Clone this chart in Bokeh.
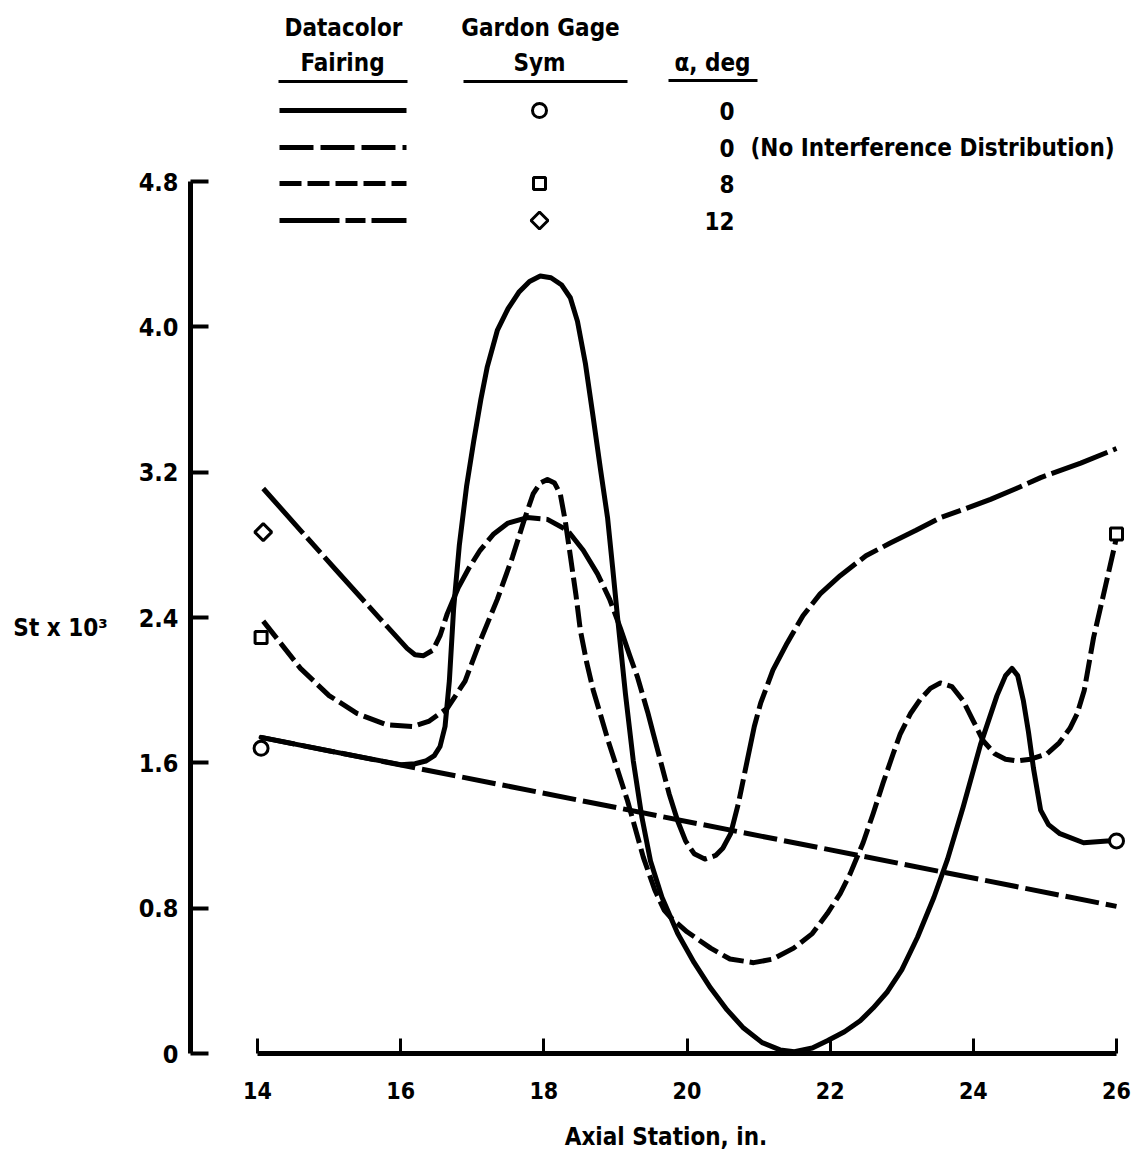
import numpy as np
from bokeh.plotting import figure
from bokeh.models import Range1d, FixedTicker, Label
from bokeh.embed import file_html
from bokeh.resources import INLINE

# ---------------- data ----------------
x_ticks = [14, 16, 18, 20, 22, 24, 26]
y_ticks = [0, 0.8, 1.6, 2.4, 3.2, 4.0, 4.8]
y_tick_labels = ["0", "0.8", "1.6", "2.4", "3.2", "4.0", "4.8"]

# alpha = 0, no interference distribution (straight fairing)
noint_x = [14.05, 26.0]
noint_y = [1.74, 0.81]

# alpha = 0 fairing (solid)
a0_x = [14.05, 15.0, 16.0, 16.2, 16.35, 16.47, 16.55, 16.62, 16.68, 16.74, 16.82, 16.92,
        17.02, 17.12, 17.21, 17.35, 17.5, 17.65, 17.8, 17.95, 18.1, 18.25, 18.37, 18.47,
        18.58, 18.69, 18.79, 18.89, 18.96, 19.03, 19.14, 19.25, 19.37, 19.49, 19.65, 19.87,
        20.1, 20.33, 20.56, 20.79, 21.05, 21.3, 21.5, 21.75, 21.96, 22.2, 22.42, 22.6, 22.8,
        23.0, 23.22, 23.45, 23.64, 23.86, 24.1, 24.33, 24.45, 24.54, 24.62, 24.7, 24.77,
        24.84, 24.94, 25.05, 25.21, 25.54, 25.87, 26.0]
a0_y = [1.74, 1.666, 1.59, 1.595, 1.61, 1.64, 1.69, 1.80, 2.05, 2.45, 2.80, 3.12,
        3.37, 3.60, 3.78, 3.98, 4.10, 4.19, 4.25, 4.28, 4.27, 4.23, 4.16, 4.03,
        3.80, 3.50, 3.22, 2.95, 2.68, 2.40, 1.98, 1.61, 1.30, 1.06, 0.86, 0.66,
        0.50, 0.36, 0.24, 0.14, 0.06, 0.02, 0.01, 0.03, 0.07, 0.12, 0.18, 0.25, 0.34,
        0.46, 0.64, 0.86, 1.07, 1.36, 1.70, 1.97, 2.08, 2.12, 2.08, 1.94, 1.77,
        1.57, 1.34, 1.26, 1.21, 1.16, 1.17, 1.17]
a0_sym_x = [14.05, 26.0]
a0_sym_y = [1.68, 1.17]

# alpha = 8 fairing (dashed)
a8_x = [14.08, 14.3, 14.6, 15.0, 15.4, 15.8, 16.17, 16.4, 16.65, 16.9, 17.11, 17.35,
        17.56, 17.72, 17.85, 17.95, 18.05, 18.15, 18.23, 18.3, 18.37, 18.45, 18.51,
        18.6, 18.69, 18.9, 19.17, 19.39, 19.55, 19.68, 19.77, 20.0, 20.33, 20.6, 20.93,
        21.2, 21.49, 21.75, 21.96, 22.14, 22.28, 22.46, 22.6, 22.74, 22.88, 22.98, 23.12,
        23.26, 23.4, 23.54, 23.7, 23.86, 24.0, 24.14, 24.3, 24.45, 24.61, 24.8, 25.03,
        25.2, 25.35, 25.45, 25.55, 25.68, 25.85, 26.0]
a8_y = [2.38, 2.27, 2.12, 1.97, 1.87, 1.81, 1.80, 1.83, 1.90, 2.05, 2.27, 2.50,
        2.73, 2.93, 3.08, 3.14, 3.16, 3.14, 3.08, 2.93, 2.74, 2.52, 2.33,
        2.15, 2.00, 1.72, 1.39, 1.08, 0.90, 0.79, 0.75, 0.67, 0.58, 0.52, 0.50,
        0.52, 0.58, 0.66, 0.77, 0.88, 0.99, 1.16, 1.32, 1.49, 1.65, 1.76, 1.87,
        1.95, 2.01, 2.04, 2.02, 1.94, 1.83, 1.72, 1.65, 1.62, 1.61, 1.62, 1.65,
        1.71, 1.79, 1.87, 2.00, 2.29, 2.58, 2.84]
a8_sym_x = [14.05, 26.0]
a8_sym_y = [2.29, 2.86]

# alpha = 12 fairing (long-short dash)
a12_x = [14.08, 14.6, 15.1, 15.72, 16.09, 16.2, 16.32, 16.45, 16.55, 16.65, 16.8, 16.95,
         17.11, 17.3, 17.5, 17.77, 18.05, 18.33, 18.55, 18.75, 18.92, 19.07, 19.2, 19.31,
         19.45, 19.53, 19.63, 19.75, 19.87, 19.98, 20.1, 20.25, 20.4, 20.5, 20.61, 20.72,
         20.84, 20.94, 21.03, 21.2, 21.4, 21.62, 21.86, 22.14, 22.5, 22.84, 23.2, 23.54,
         23.9, 24.24, 24.6, 24.94, 25.5, 26.0]
a12_y = [3.11, 2.88, 2.66, 2.39, 2.23, 2.195, 2.19, 2.22, 2.30, 2.42, 2.56, 2.67,
         2.77, 2.86, 2.92, 2.95, 2.94, 2.88, 2.77, 2.64, 2.50, 2.34, 2.19, 2.07,
         1.88, 1.76, 1.61, 1.43, 1.28, 1.17, 1.10, 1.07, 1.09, 1.13, 1.21, 1.38,
         1.61, 1.80, 1.93, 2.11, 2.26, 2.41, 2.53, 2.63, 2.74, 2.81, 2.88, 2.95,
         3.00, 3.05, 3.11, 3.17, 3.25, 3.33]
a12_sym_x = [14.08]
a12_sym_y = [2.87]

# legend texts
legend_alpha = ["0", "0", "8", "12"]

# ---------------- layout helpers (canvas pixels -> data) ----------------
def xd(px):
    return 14 + (px - 257) * 12.0 / (1116 - 257)

def yd(py):
    return (1053 - py) * 4.8 / (1053 - 181)

FONT = "DejaVu Sans Condensed, Liberation Sans Narrow, sans-serif"
BLACK = "#000000"
LW = 5
FS = "24px"

DASH_NOINT = "34 7"
DASH_A8 = "22 6"
DASH_A12 = "60 6 20 6"

W, H = 1141, 1159
p = figure(width=W, height=H,
           x_range=Range1d(xd(190), xd(W)),
           y_range=Range1d(0, yd(0)),
           output_backend="svg", toolbar_location=None,
           min_border_left=190, min_border_right=0,
           min_border_top=0, min_border_bottom=H - 1053)
p.outline_line_color = None
p.grid.grid_line_color = None
p.background_fill_color = "white"
p.border_fill_color = "white"

# axes
xax = p.xaxis[0]
xax.ticker = FixedTicker(ticks=x_ticks)
xax.bounds = (14, 26)
xax.axis_line_width = 5
xax.major_tick_line_width = 3
xax.major_tick_in = 15
xax.major_tick_out = 0
xax.minor_tick_line_color = None
xax.major_label_text_font = FONT
xax.major_label_text_font_style = "bold"
xax.major_label_text_font_size = "23px"
xax.major_label_text_color = BLACK
xax.major_label_standoff = 28
xax.axis_label = "Axial Station, in."
xax.axis_label_text_font = FONT
xax.axis_label_text_font_style = "bold"
xax.axis_label_text_font_size = FS
xax.axis_label_text_color = BLACK
xax.axis_label_standoff = 21

yax = p.yaxis[0]
yax.ticker = FixedTicker(ticks=y_ticks)
yax.bounds = (0, 4.8)
yax.axis_line_width = 5
yax.major_tick_line_width = 4
yax.major_tick_in = 18
yax.major_tick_out = 0
yax.minor_tick_line_color = None
yax.major_label_overrides = {float(v): s for v, s in zip(y_ticks, y_tick_labels)}
yax.major_label_text_font = FONT
yax.major_label_text_font_style = "bold"
yax.major_label_text_font_size = "25px"
yax.major_label_text_color = BLACK
yax.major_label_standoff = 12
# blank lines push the horizontal label down to the 2.4 level, as in the reference
yax.axis_label = "\n" * 6 + "St x 10\u00b3"
yax.axis_label_orientation = "horizontal"
yax.axis_label_text_font = FONT
yax.axis_label_text_font_style = "bold"
yax.axis_label_text_font_size = FS
yax.axis_label_text_color = BLACK
yax.axis_label_standoff = 28

# fairings
p.line(noint_x, noint_y, line_width=LW, color=BLACK, line_dash=DASH_NOINT)
p.line(a0_x, a0_y, line_width=LW, color=BLACK, line_join="round", line_cap="round")
p.line(a8_x, a8_y, line_width=LW, color=BLACK, line_dash=DASH_A8, line_join="round")
p.line(a12_x, a12_y, line_width=LW, color=BLACK, line_dash=DASH_A12, line_join="round")

# symbols
p.scatter(a0_sym_x, a0_sym_y, marker="circle", size=14, line_width=3,
          line_color=BLACK, fill_color="white")
p.scatter(a8_sym_x, a8_sym_y, marker="square", size=12, line_width=3,
          line_color=BLACK, fill_color="white")
p.scatter(a12_sym_x, a12_sym_y, marker="square", size=12, angle=np.pi / 4,
          line_width=3, line_color=BLACK, fill_color="white")

# ---------------- legend ----------------
def label(px, py, text, align="center", size=FS):
    p.add_layout(Label(x=xd(px), y=yd(py), text=text, text_align=align,
                       text_baseline="middle", text_font=FONT, text_font_style="bold",
                       text_font_size=size, text_color=BLACK))

label(343, 27, "Datacolor")
label(342, 62, "Fairing")
label(540, 27, "Gardon Gage")
label(539, 62, "Sym")
label(712, 62, "\u03b1, deg")
for (x0, x1, yy) in [(278, 407, 81), (463, 627, 81), (668, 757, 80)]:
    p.line([xd(x0), xd(x1)], [yd(yy), yd(yy)], line_width=3, color=BLACK)

rows = [110, 147, 183, 220]
dashes = ["solid", DASH_NOINT, DASH_A8, DASH_A12]
for r, d, a in zip(rows, dashes, legend_alpha):
    p.line([xd(279), xd(406)], [yd(r), yd(r)], line_width=LW, color=BLACK, line_dash=d)
    label(734, r, a, align="right")
label(750, rows[1], "(No Interference Distribution)", align="left")
p.scatter([xd(539)], [yd(rows[0])], marker="circle", size=14, line_width=3,
          line_color=BLACK, fill_color="white")
p.scatter([xd(539)], [yd(rows[2])], marker="square", size=12, line_width=3,
          line_color=BLACK, fill_color="white")
p.scatter([xd(539)], [yd(rows[3])], marker="square", size=12, angle=np.pi / 4,
          line_width=3, line_color=BLACK, fill_color="white")

open("out.html", "w").write(file_html(p, INLINE))
